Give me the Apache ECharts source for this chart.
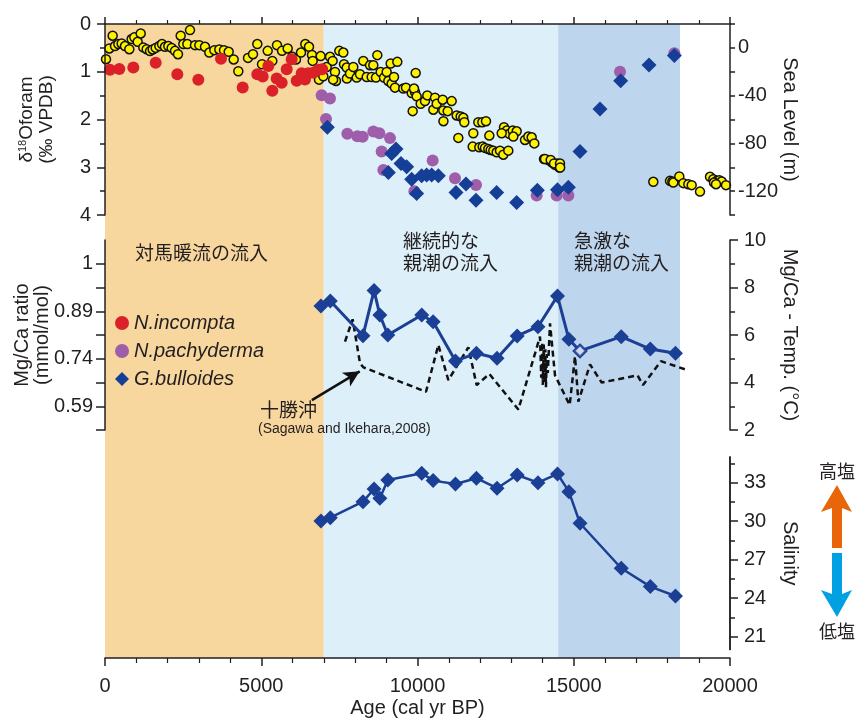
<!DOCTYPE html>
<html><head><meta charset="utf-8">
<script src="https://cdn.jsdelivr.net/npm/echarts@6/dist/echarts.min.js"></script>
<style>html,body{margin:0;padding:0;background:#fff}#c{width:866px;height:720px}</style>
</head><body><div id="c"></div>
<script>
// ---------------- DATA ----------------
const bandRanges = [[0, 7000], [7000, 14500], [14500, 18400]];

// N. incompta δ18O (‰)
const incomptaAge = [160, 458, 906, 1622, 2314, 2986, 3712, 4406, 4874, 5046, 5226, 5354, 5494, 5654, 5814, 5974, 6134, 6294, 6400, 6506, 6666, 6826, 6950];
const incomptaD18O = [0.96, 0.94, 0.91, 0.81, 1.05, 1.17, 0.73, 1.33, 1.05, 1.10, 0.88, 1.40, 1.14, 1.23, 0.95, 0.74, 1.19, 1.03, 1.16, 1.03, 1.02, 0.96, 0.95];

// N. pachyderma δ18O (‰)
const pachyAge = [6933, 7072, 7200, 7755, 8075, 8245, 8587, 8779, 8853, 8907, 9120, 9900, 10485, 11200, 11872, 13813, 14453, 14827, 16480, 18219];
const pachyD18O = [1.49, 1.99, 1.56, 2.30, 2.35, 2.36, 2.25, 2.29, 2.67, 3.06, 2.39, 3.50, 2.86, 3.23, 3.37, 3.59, 3.59, 3.59, 1.00, 0.61];

// G. bulloides δ18O (‰)
const bullD18OAge = [7115, 9067, 9173, 9312, 9472, 9653, 9813, 9973, 10133, 10293, 10453, 10667, 11232, 11552, 11872, 12533, 13173, 13835, 14480, 14827, 15200, 15840, 16501, 17408, 18219];
const bullD18O = [2.16, 3.11, 2.71, 2.62, 2.92, 2.99, 3.25, 3.55, 3.18, 3.16, 3.16, 3.18, 3.53, 3.35, 3.69, 3.53, 3.74, 3.48, 3.47, 3.42, 2.67, 1.78, 1.19, 0.86, 0.66];

// Sea level (m)
const seaAge = [32, 138, 245, 320, 427, 533, 640, 778, 853, 938, 1045, 1142, 1226, 1334, 1440, 1526, 1622, 1738, 1824, 1920, 2026, 2133, 2240, 2336, 2422, 2506, 2634, 2720, 2880, 3018, 3200, 3338, 3498, 3658, 3808, 3958, 4118, 4266, 4576, 4736, 4874, 5024, 5206, 5354, 5504, 5664, 5846, 5994, 6112, 6272, 6410, 6528, 6624, 6646, 6848, 6902, 6986, 7094,
  7200, 7285, 7360, 7392, 7300, 7498, 7626, 7648, 7734, 7740, 7840, 7946, 8054, 8160, 8266, 8374, 8480, 8586, 8534, 8714, 8672, 8822, 8928, 9014, 9142, 9066, 9174, 9248, 9354, 9280, 9546, 9632, 9814, 9920, 9942, 9888, 9974, 9846, 10102, 10240, 10314, 10560, 10506, 10614, 10806, 10826, 10966, 10830, 11094, 11306, 11254, 11382, 11466, 11498, 11786, 11946, 12074, 12192, 12298, 11766, 11978, 12086, 12160, 12266, 12342, 12426, 12534, 12640, 12746, 12906, 12768, 12854, 12938, 13046, 13174, 12694, 13066, 13440, 13546, 13654, 13738, 14048, 14186, 14294, 14400, 14474, 14538, 14080, 14262, 14368, 14560, 14565,
  17546, 18080, 18154, 18186, 18378, 18506, 18666, 18774, 19040, 19360, 19466, 19574, 19658, 19734, 19872, 19488, 19552];
const seaLevel = [-9.5, -0.5, 10.2, 1.5, 3.2, 3.7, 1.5, -1.1, 7.4, 8.8, 5.1, 12.1, 0.4, -1.1, -2.7, -1.3, 0.0, 1.5, 3.2, 0.9, 1.5, 0.0, -2.5, -5.3, 10.2, 3.2, 3.2, 14.9, 2.3, 2.3, 0.9, -3.9, -1.9, -1.3, -1.9, -3.3, -9.7, -19.6, -8.4, -5.3, 3.2, -13.7, -2.5, -10.9, 2.3, -2.5, -0.5, -7.5, -9.7, -3.9, 3.2, 0.9, -5.9, -10.9, -26.6, -6.9, -23.8, -16.0,
  -7.5, -10.9, -20.2, -27.7, -26.6, -2.5, -3.9, -13.7, -16.5, -25.7, -21.5, -16.0, -24.9, -22.1, -10.9, -24.4, -14.5, -14.5, -24.4, -6.1, -24.9, -20.2, -24.9, -20.2, -13.1, -27.7, -29.9, -24.4, -11.7, -33.3, -34.1, -33.3, -37.9, -37.0, -21.0, -34.1, -40.6, -53.0, -46.8, -44.6, -39.8, -41.7, -51.8, -46.8, -43.4, -52.4, -53.0, -61.4, -44.6, -75.4, -56.6, -57.5, -58.6, -62.3, -71.5, -62.3, -62.3, -61.4, -73.5, -82.7, -83.3, -82.7, -83.8, -84.7, -85.5, -86.1, -87.5, -86.1, -89.5, -86.1, -66.5, -69.3, -72.0, -69.3, -69.9, -71.5, -74.3, -77.1, -74.3, -74.9, -80.0, -93.1, -93.9, -95.9, -97.9, -96.8, -100.2, -93.1, -93.9, -96.8, -96.8, -100.2,
  -112.2, -111.4, -112.0, -112.8, -107.7, -113.3, -114.2, -115.0, -120.4, -108.0, -110.0, -111.4, -110.8, -112.0, -115.0, -112.8, -114.2];

// G. bulloides Mg/Ca temperature (°C) and salinity, same samples
const bullAge = [6910, 7210, 8255, 8610, 8795, 9050, 10135, 10500, 11215, 11885, 12545, 13190, 13855, 14480, 14845, 15200, 16520, 17450, 18255];
const bullTemp = [7.22, 7.43, 5.97, 7.87, 6.84, 6.00, 6.84, 6.56, 4.91, 5.23, 5.02, 5.96, 6.35, 7.64, 5.82, 5.33, 5.93, 5.41, 5.23];
const bullSal = [30.02, 30.27, 31.52, 32.51, 31.79, 33.21, 33.74, 33.16, 32.90, 33.35, 32.57, 33.60, 33.00, 33.68, 32.30, 29.84, 26.33, 24.90, 24.17];
const hollowIndex = [15];

// Off Tokachi (Sagawa and Ikehara, 2008) temperature (°C)
const tokAge = [7680, 7925, 8160, 8267, 10272, 10667, 10987, 11627, 11893, 12299, 13227, 13920, 13960, 13990, 14010, 14040, 14060, 14090, 14110, 14140, 14170, 14240, 14400, 14870, 15040, 15147, 15520, 15893, 17040, 17215, 17790, 18613];
const tokTemp = [5.72, 6.66, 4.81, 4.64, 3.61, 5.58, 4.10, 5.48, 3.89, 4.36, 2.86, 5.93, 4.20, 5.70, 3.90, 5.60, 4.00, 5.40, 3.80, 5.20, 4.40, 6.49, 4.30, 3.05, 5.10, 3.19, 4.76, 4.00, 4.30, 3.89, 4.90, 4.53];

// Tick labels
const ageTicks = [0, 5000, 10000, 15000, 20000];
const d18oLabels = [0, 1, 2, 3, 4];
const seaLabels = [0, -40, -80, -120];
const mgcaTickPos = [9, 7, 5, 3];
const mgcaTickLabels = ['1', '0.89', '0.74', '0.59'];
const tempLabels = [2, 4, 6, 8, 10];
const salLabels = [21, 24, 27, 30, 33];
const salMinorTicks = [22.5, 25.5, 28.5, 31.5, 34.5];

// ---------------- STYLE ----------------
const FONT = "'Liberation Sans', Arial, sans-serif";
const CJK = "'Noto Sans CJK JP', sans-serif";
const TXT = '#231F20';
const bandColors = ['#F8D79E', '#DDEFF8', '#BED5EE'];
const L = 105, W = 625;
const zip = (a, b) => a.map((v, i) => [v, b[i]]);
const axLine = { show: true, onZero: false, lineStyle: { color: TXT, width: 1.5 } };
const tick = len => ({ show: true, length: len, lineStyle: { color: TXT, width: 1.5 } });
const lbl = { color: TXT, fontSize: 20, fontFamily: FONT };
const nameStyle = { color: TXT, fontSize: 20, fontFamily: FONT, lineHeight: 20 };

const chart = echarts.init(document.getElementById('c'));
const option = {
  animation: false,
  backgroundColor: '#fff',
  grid: [
    { left: L, width: W, top: 24, height: 634, outerBoundsMode: 'none', containLabel: false },
    { left: L, width: W, top: 24, height: 191, outerBoundsMode: 'none', containLabel: false },
    { left: L, width: W, top: 240, height: 190, outerBoundsMode: 'none', containLabel: false },
    { left: L, width: W, top: 457, height: 192.5, outerBoundsMode: 'none', containLabel: false }
  ],
  xAxis: [
    { gridIndex: 0, type: 'value', min: 0, max: 20000, interval: 5000, position: 'bottom', z: 5,
      axisLine: axLine, axisTick: tick(8),
      minorTick: { show: true, splitNumber: 5, length: 5, lineStyle: { color: TXT, width: 1.2 } },
      splitLine: { show: false },
      axisLabel: Object.assign({ margin: 18, formatter: v => ageTicks.includes(v) ? String(v) : '' }, lbl),
      name: 'Age (cal yr BP)', nameLocation: 'middle', nameGap: 40, nameMoveOverlap: false, nameTextStyle: nameStyle },
    { gridIndex: 0, type: 'value', min: 0, max: 20000, interval: 5000, position: 'top', z: 5,
      axisLine: axLine, axisTick: tick(7),
      minorTick: { show: true, splitNumber: 5, length: 4, lineStyle: { color: TXT, width: 1.2 } },
      splitLine: { show: false }, axisLabel: { show: false } },
    { gridIndex: 1, type: 'value', min: 0, max: 20000, show: false },
    { gridIndex: 2, type: 'value', min: 0, max: 20000, show: false },
    { gridIndex: 3, type: 'value', min: 0, max: 20000, show: false }
  ],
  yAxis: [
    { gridIndex: 0, type: 'value', min: 0, max: 1, show: false },
    { gridIndex: 1, type: 'value', inverse: true, min: 0, max: 4, interval: 1, position: 'left', z: 5,
      axisLine: axLine, axisTick: tick(8),
      minorTick: { show: true, splitNumber: 2, length: 5, lineStyle: { color: TXT, width: 1.5 } },
      splitLine: { show: false }, minorSplitLine: { show: false },
      axisLabel: Object.assign({ margin: 14, formatter: v => d18oLabels.includes(v) ? String(v) : '' }, lbl),
      name: '{a|δ}{s|18}{a|Oforam}\n{a|(‰ VPDB)}', nameLocation: 'middle', nameRotate: 90, nameGap: 48, nameMoveOverlap: false,
      nameTextStyle: { color: TXT, fontFamily: FONT, rich: {
        a: { fontSize: 19, lineHeight: 20, fontFamily: FONT, color: TXT },
        s: { fontSize: 11, lineHeight: 20, verticalAlign: 'top', fontFamily: FONT, color: TXT, padding: [0, 0, 8, 0] } } } },
    { gridIndex: 1, type: 'value', min: -140, max: 20, interval: 20, position: 'right', z: 5,
      axisLine: axLine, axisTick: tick(5),
      splitLine: { show: false },
      axisLabel: Object.assign({ margin: 8, formatter: v => seaLabels.includes(v) ? String(v) : '' }, lbl),
      name: 'Sea Level (m)', nameLocation: 'middle', nameRotate: -90, nameGap: 50, nameMoveOverlap: false, nameTextStyle: nameStyle },
    { gridIndex: 2, type: 'value', min: 2, max: 10, position: 'left', z: 5,
      axisLine: axLine,
      axisTick: Object.assign(tick(9), { customValues: [2, 3, 4, 5, 6, 7, 8, 9] }),
      splitLine: { show: false },
      axisLabel: Object.assign({ margin: 12, customValues: mgcaTickPos,
        formatter: v => { const i = mgcaTickPos.indexOf(v); return i >= 0 ? mgcaTickLabels[i] : ''; } }, lbl),
      name: 'Mg/Ca ratio\n(mmol/mol)', nameLocation: 'middle', nameRotate: 90, nameGap: 53, nameMoveOverlap: false, nameTextStyle: nameStyle },
    { gridIndex: 2, type: 'value', min: 2, max: 10, interval: 2, position: 'right', z: 5,
      axisLine: axLine, axisTick: tick(8),
      minorTick: { show: true, splitNumber: 2, length: 5, lineStyle: { color: TXT, width: 1.5 } },
      splitLine: { show: false }, minorSplitLine: { show: false },
      axisLabel: Object.assign({ margin: 14, formatter: v => tempLabels.includes(v) ? String(v) : '' }, lbl),
      name: 'Mg/Ca - Temp. (°C)', nameLocation: 'middle', nameRotate: -90, nameGap: 50, nameMoveOverlap: false, nameTextStyle: nameStyle },
    { gridIndex: 3, type: 'value', min: 20, max: 35, position: 'right', z: 5,
      axisLine: axLine,
      axisTick: Object.assign(tick(8), { customValues: salLabels }),
      splitLine: { show: false },
      axisLabel: Object.assign({ margin: 14, customValues: salLabels, formatter: v => String(v) }, lbl),
      name: 'Salinity', nameLocation: 'middle', nameRotate: -90, nameGap: 50, nameMoveOverlap: false, nameTextStyle: nameStyle },
    { gridIndex: 3, type: 'value', min: 20, max: 35, position: 'right', offset: 0, z: 5,
      axisLine: axLine,
      axisTick: Object.assign(tick(5), { customValues: salMinorTicks }),
      splitLine: { show: false }, axisLabel: { show: false } }
  ],
  legend: {
    left: 110, top: 307, orient: 'vertical', itemGap: 6, itemWidth: 14, itemHeight: 14,
    textStyle: { color: TXT, fontSize: 20, fontStyle: 'italic', fontFamily: FONT, lineHeight: 22 },
    data: [{ name: 'N.incompta', icon: 'circle' }, { name: 'N.pachyderma', icon: 'circle' }, { name: 'G.bulloides', icon: 'diamond' }]
  },
  series: [
    { type: 'line', name: 'bands', xAxisIndex: 0, yAxisIndex: 0, data: [], z: 1, silent: true,
      markArea: { silent: true, data: bandRanges.map((b, i) => [{ xAxis: b[0], itemStyle: { color: bandColors[i] } }, { xAxis: b[1] }]) } },
    { type: 'scatter', name: 'Sea level', xAxisIndex: 2, yAxisIndex: 2, data: zip(seaAge, seaLevel), symbolSize: 9, z: 3,
      itemStyle: { color: '#FFF200', borderColor: '#111', borderWidth: 1.5, opacity: 1 } },
    { type: 'scatter', name: 'N.incompta', xAxisIndex: 2, yAxisIndex: 1, data: zip(incomptaAge, incomptaD18O), symbolSize: 12, z: 4,
      itemStyle: { color: '#DA2128', opacity: 1 } },
    { type: 'scatter', name: 'N.pachyderma', xAxisIndex: 2, yAxisIndex: 1, data: zip(pachyAge, pachyD18O), symbolSize: 12, z: 4,
      itemStyle: { color: '#9E5EAA', opacity: 1 } },
    { type: 'scatter', name: 'G.bulloides', xAxisIndex: 2, yAxisIndex: 1, data: zip(bullD18OAge, bullD18O), symbol: 'diamond', symbolSize: 15, z: 5,
      itemStyle: { color: '#153F96', opacity: 1 } },
    { type: 'line', name: 'Tokachi', xAxisIndex: 3, yAxisIndex: 4, data: zip(tokAge, tokTemp), symbol: 'none', z: 3,
      lineStyle: { color: '#111', width: 2.5, type: [6, 4] },
      markLine: { silent: true, symbol: ['none', 'arrow'], symbolSize: [12, 16], label: { show: false },
        lineStyle: { color: '#111', width: 2.5, type: 'solid' },
        data: [[{ coord: [6620, 3.26] }, { coord: [8150, 4.47] }]] } },
    { type: 'line', name: 'bullTemp', xAxisIndex: 3, yAxisIndex: 4, data: zip(bullAge, bullTemp), symbol: 'diamond', symbolSize: 15, z: 5,
      lineStyle: { color: '#1B3F94', width: 3 }, itemStyle: { color: '#1B3F94' } },
    { type: 'scatter', name: 'bullTempHollow', xAxisIndex: 3, yAxisIndex: 4, data: hollowIndex.map(i => [bullAge[i], bullTemp[i]]), symbol: 'diamond', symbolSize: 12, z: 6,
      itemStyle: { color: '#fff', borderColor: '#1B3F94', borderWidth: 2.5 } },
    { type: 'line', name: 'bullSal', xAxisIndex: 4, yAxisIndex: 5, data: zip(bullAge, bullSal), symbol: 'diamond', symbolSize: 15, z: 5,
      lineStyle: { color: '#1B3F94', width: 2.5 }, itemStyle: { color: '#1B3F94' } }
  ],
  graphic: [
    { type: 'text', left: 135, top: 243, z: 10, style: { text: '対馬暖流の流入', fill: TXT, font: '19px ' + CJK } },
    { type: 'text', left: 403, top: 230, z: 10, style: { text: '継続的な\n親潮の流入', fill: TXT, font: '19px ' + CJK, lineHeight: 22 } },
    { type: 'text', left: 574, top: 230, z: 10, style: { text: '急激な\n親潮の流入', fill: TXT, font: '19px ' + CJK, lineHeight: 22 } },
    { type: 'text', left: 260, top: 400, z: 10, style: { text: '十勝沖', fill: TXT, font: '19px ' + CJK } },
    { type: 'text', left: 258, top: 422, z: 10, style: { text: '(Sagawa and Ikehara,2008)', fill: TXT, font: '14px ' + FONT } },
    { type: 'text', left: 819, top: 462, z: 10, style: { text: '高塩', fill: TXT, font: '18px ' + CJK } },
    { type: 'text', left: 819, top: 622, z: 10, style: { text: '低塩', fill: TXT, font: '18px ' + CJK } },
    { type: 'polygon', z: 10, shape: { points: [[837, 485], [852, 512], [842, 508], [842, 548], [832, 548], [832, 508], [821, 512]] }, style: { fill: '#E8650A' } },
    { type: 'polygon', z: 10, shape: { points: [[837, 617], [852, 590], [842, 594], [842, 553], [832, 553], [832, 594], [821, 590]] }, style: { fill: '#00A0E3' } }
  ]
};
chart.setOption(option);
</script>
</body></html>
